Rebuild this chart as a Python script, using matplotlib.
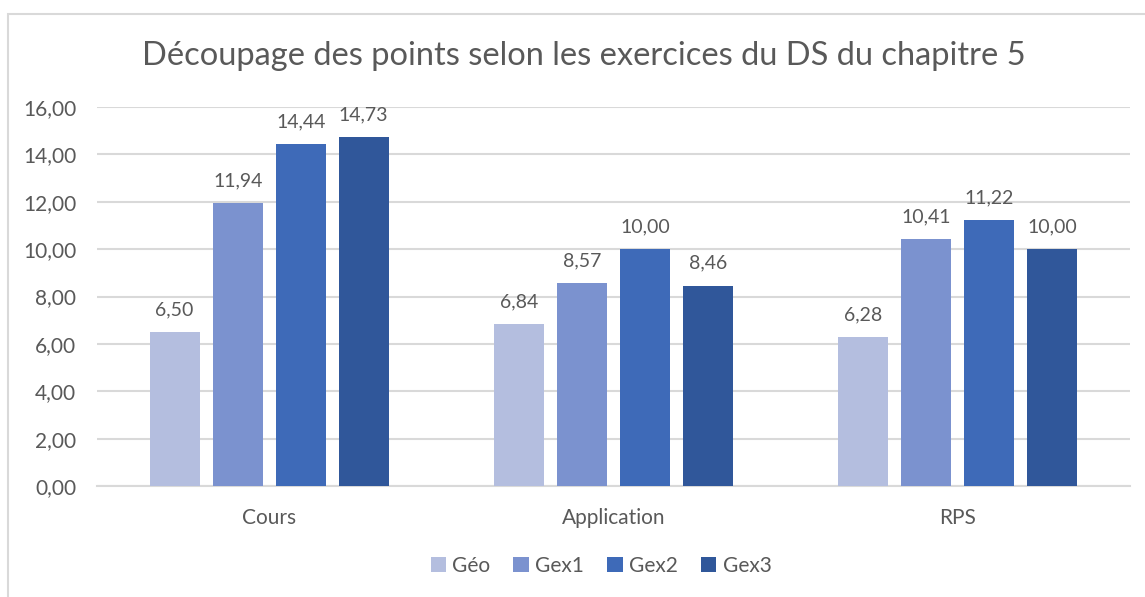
#!/usr/bin/env python3

import numpy as np
import matplotlib.pyplot as plt
from matplotlib.patches import Rectangle

categories = ["Cours", "Application", "RPS"]
series = ["Géo", "Gex1", "Gex2", "Gex3"]
geo = [6.50, 6.84, 6.28]
gex1 = [11.94, 8.57, 10.41]
gex2 = [14.44, 10.00, 11.22]
gex3 = [14.73, 8.46, 10.00]
yticks = [0, 2, 4, 6, 8, 10, 12, 14, 16]

colors = ["#B4BEDF", "#7B92CF", "#3E6AB8", "#30579A"]
text_color = "#595959"

plt.rcParams['font.family'] = ['Lato', 'DejaVu Sans']

fig = plt.figure(figsize=(11.45, 5.97), dpi=100)
ax = fig.add_axes([97 / 1145, 111 / 597, 1033 / 1145, 379 / 597])

# chart frame
fig.patches.append(Rectangle((8 / 1145, -0.1), 1.2, 1.1 - 14 / 597,
                             transform=fig.transFigure, fill=False,
                             edgecolor="#D9D9D9", linewidth=1.5))

x = np.arange(len(categories))
step = 0.183
width = 0.145
for i, (name, vals) in enumerate(zip(series, [geo, gex1, gex2, gex3])):
    bars = ax.bar(x + (i - 1.5) * step, vals, width, color=colors[i], label=name, zorder=3)
    ax.bar_label(bars, labels=[f"{v:.2f}".replace(".", ",") for v in vals],
                 padding=10, fontsize=14, color=text_color)

ax.set_xlim(-0.5, 2.5)
ax.set_ylim(0, 16)
ax.set_yticks(yticks)
ax.set_yticklabels([f"{v:.2f}".replace(".", ",") for v in yticks])
ax.set_xticks(x)
ax.set_xticklabels(categories)
ax.tick_params(axis="both", length=0, labelsize=15, labelcolor=text_color)
ax.tick_params(axis="x", pad=16)
ax.tick_params(axis="y", pad=15)
ax.grid(axis="y", color="#D9D9D9", linewidth=1.5, zorder=0)
for s in ["top", "right", "left"]:
    ax.spines[s].set_visible(False)
ax.spines["bottom"].set_color("#D9D9D9")
ax.spines["bottom"].set_linewidth(1.5)

fig.text(584 / 1145, 1 - 56 / 597, "Découpage des points selon les exercices du DS du chapitre 5",
         ha="center", va="center", fontsize=23.5, color=text_color)

fig.legend(loc="center", bbox_to_anchor=(601 / 1145, 1 - 566 / 597), ncol=4, frameon=False,
           fontsize=15, labelcolor=text_color, handlelength=0.75, handleheight=0.75,
           handletextpad=0.3, columnspacing=1.1)

fig.savefig("out.png", dpi=100)
